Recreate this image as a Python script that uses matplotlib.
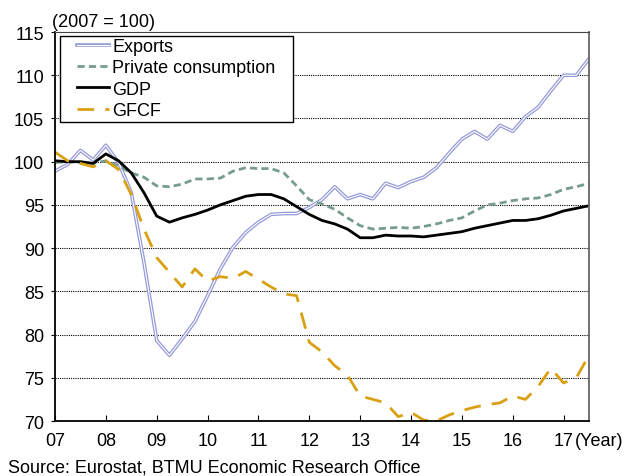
import matplotlib.pyplot as plt
import matplotlib.patheffects as pe
from matplotlib.patches import Rectangle
import numpy as np

plt.rcParams['font.family'] = ['Liberation Sans', 'DejaVu Sans']

# quarterly, 2007Q1 .. 2017Q3 (2007 = 100)
exports = [98.9, 99.7, 101.3, 100.2, 101.9, 99.9, 96.4, 88.3, 79.3, 77.6,
           79.5, 81.5, 84.5, 87.6, 90.1, 91.8, 93.0, 93.9, 94.0, 94.0,
           94.7, 95.6, 97.1, 95.7, 96.2, 95.7, 97.5, 97.0, 97.7, 98.2,
           99.3, 101.0, 102.6, 103.5, 102.6, 104.2, 103.5, 105.2, 106.3,
           108.2, 110.0, 110.0, 111.9]
consumption = [99.9, 100.0, 99.9, 99.8, 100.1, 99.5, 98.7, 98.2, 97.2, 97.1,
               97.4, 98.0, 98.0, 98.1, 98.9, 99.3, 99.2, 99.2, 98.7, 97.2,
               95.6, 95.1, 94.5, 93.5, 92.6, 92.2, 92.3, 92.4, 92.3, 92.5,
               92.8, 93.2, 93.5, 94.3, 95.0, 95.2, 95.5, 95.7, 95.8, 96.2,
               96.8, 97.1, 97.5]
gdp = [100.1, 100.0, 100.0, 99.8, 100.9, 100.1, 98.7, 96.4, 93.7, 93.0,
       93.5, 93.9, 94.4, 95.0, 95.5, 96.0, 96.2, 96.2, 95.7, 94.8,
       93.9, 93.2, 92.8, 92.2, 91.2, 91.2, 91.5, 91.4, 91.4, 91.3,
       91.5, 91.7, 91.9, 92.3, 92.6, 92.9, 93.2, 93.2, 93.4, 93.8,
       94.3, 94.6, 94.9]
gfcf = [101.1, 100.1, 99.8, 99.4, 100.1, 99.1, 96.2, 92.2, 88.9, 87.2,
        85.5, 87.6, 86.2, 86.7, 86.5, 87.3, 86.4, 85.5, 84.7, 84.5,
        79.1, 78.0, 76.4, 75.3, 72.9, 72.5, 72.1, 70.5, 71.0, 70.1,
        70.0, 70.7, 71.2, 71.6, 71.9, 72.1, 72.9, 72.5, 74.0, 76.1,
        74.4, 75.0, 77.6]
year_ticks = list(range(7, 18))
year_labels = ['%02d' % y for y in year_ticks]

x = 7 + 0.25 * np.arange(len(gdp))
fs = 13

fig = plt.figure(figsize=(6.26, 4.77), dpi=100)
ax = fig.add_axes([0.0879, 0.1153, 0.853, 0.8155])

ax.plot(x, exports, color='white', lw=0.8, label='Exports',
        path_effects=[pe.Stroke(linewidth=2.6, foreground='#959ad8'), pe.Normal()])
ax.plot(x, consumption, color='#769d8b', lw=2, dashes=(2.6, 1.5),
        label='Private consumption')
ax.plot(x, gdp, color='black', lw=2, label='GDP')
ax.plot(x, gfcf, color='#d9a011', lw=2, dashes=(6, 4), label='GFCF')

ax.set_xlim(7, 17.5)
ax.set_ylim(70, 115)
ax.set_yticks(range(70, 116, 5))
ax.set_xticks(year_ticks)
ax.set_xticklabels(year_labels)
for v in range(75, 115, 5):
    ax.axhline(v, color='black', lw=0.8, ls=(0, (1, 1)), zorder=0)

ax.tick_params(axis='x', direction='in', length=4, labelsize=fs, pad=8)
ax.tick_params(axis='y', direction='out', length=3, labelsize=fs, pad=5)
for s in ['left', 'bottom']:
    ax.spines[s].set_color('black')
    ax.spines[s].set_linewidth(1.3)
ax.spines['top'].set_color('#444444')
ax.spines['right'].set_color('#666666')
ax.spines['right'].set_linewidth(1.3)

# legend box drawn separately so it can be wider than the entries
ax.add_patch(Rectangle((0.0094, 0.769), 0.4363, 0.2203, transform=ax.transAxes,
                       facecolor='white', edgecolor='black', lw=1, zorder=5))
leg = ax.legend(loc='upper left', bbox_to_anchor=(0.041, 0.985), fontsize=fs,
                frameon=False, handlelength=1.75, handletextpad=0.2,
                labelspacing=0.24, borderpad=0, borderaxespad=0)
leg.set_zorder(6)

fig.text(0.083, 0.943, '(2007 = 100)', fontsize=fs)
ax.annotate('(Year)', xy=(17.22, 0), xycoords=('data', 'axes fraction'),
            xytext=(0, -8), textcoords='offset points', fontsize=fs,
            ha='left', va='top', annotation_clip=False)
fig.text(0.013, 0.01, 'Source: Eurostat, BTMU Economic Research Office',
         fontsize=fs)

fig.savefig('out.png', dpi=100)
